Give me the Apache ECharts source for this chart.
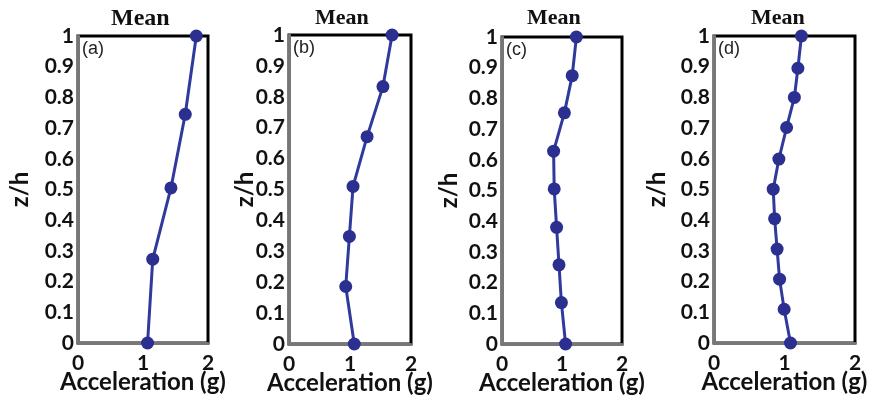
<!DOCTYPE html>
<html>
<head>
    <meta charset="utf-8">
    <title>Mean acceleration profiles</title>
    <script src="https://cdn.jsdelivr.net/npm/echarts@6/dist/echarts.min.js"></script>
</head>
<body style="margin:0;background:#fff;">
    <div id="container" style="width:875px;height:402px;"></div>
    <script type="text/javascript">
        // acceleration (g) vs z/h for each panel
        var accA = [1.07, 1.15, 1.43, 1.65, 1.82];
        var zhA  = [0, 0.273, 0.505, 0.745, 1];

        var accB = [1.07, 0.93, 0.99, 1.05, 1.28, 1.54, 1.69];
        var zhB  = [0, 0.186, 0.348, 0.51, 0.671, 0.833, 1];

        var accC = [1.06, 0.99, 0.95, 0.91, 0.87, 0.86, 1.04, 1.17, 1.24];
        var zhC  = [0, 0.135, 0.258, 0.38, 0.505, 0.628, 0.753, 0.874, 1];

        var accD = [1.085, 0.995, 0.93, 0.895, 0.86, 0.84, 0.92, 1.03, 1.14, 1.19, 1.24];
        var zhD  = [0, 0.11, 0.208, 0.306, 0.405, 0.501, 0.599, 0.702, 0.8, 0.895, 1];

        var panelLabels = ['(a)', '(b)', '(c)', '(d)'];
        var panelTitle = 'Mean';
        var xName = 'Acceleration (g)';
        var yName = 'z/h';

        // layout per panel
        var grids = [
            {left: 78,  top: 36, width: 130, height: 307},
            {left: 289, top: 35, width: 122, height: 309},
            {left: 502, top: 37, width: 120, height: 307},
            {left: 714, top: 36, width: 141, height: 307}
        ];
        var yGaps = [46, 32, 41, 45];
        var titleSizes = [24, 22, 22, 22];
        var titleX = [142, 346, 558, 782];

        var accs = [accA, accB, accC, accD];
        var zhs = [zhA, zhB, zhC, zhD];

        var myChart = echarts.init(document.getElementById('container'));

        var gridOpt = [], xAxes = [], yAxes = [], series = [], graphics = [];
        for (var i = 0; i < 4; i++) {
            gridOpt.push({
                left: grids[i].left, top: grids[i].top,
                width: grids[i].width, height: grids[i].height,
                outerBoundsMode: 'none', containLabel: false,
                show: true, borderColor: '#000', borderWidth: 3
            });
            xAxes.push({
                gridIndex: i, type: 'value', min: 0, max: 2, interval: 1,
                name: xName, nameLocation: 'middle', nameGap: 27, nameMoveOverlap: false,
                nameTextStyle: {fontFamily: 'Lato', fontWeight: 'bold', fontSize: 24, color: '#111'},
                axisLine: {show: true, lineStyle: {color: '#777', width: 3}},
                axisTick: {show: false},
                splitLine: {show: false},
                axisLabel: {fontFamily: 'Lato', fontWeight: 'bold', fontSize: 21, color: '#111', margin: 10}
            });
            yAxes.push({
                gridIndex: i, type: 'value', min: 0, max: 1, interval: 0.1,
                name: yName, nameLocation: 'middle', nameGap: yGaps[i], nameMoveOverlap: false,
                nameTextStyle: {fontFamily: 'Lato', fontWeight: 'bold', fontSize: 24, color: '#111'},
                axisLine: {show: true, lineStyle: {color: '#777', width: 3}},
                axisTick: {show: false},
                splitLine: {show: false},
                axisLabel: {
                    fontFamily: 'Lato', fontWeight: 'bold', fontSize: 21, color: '#111', margin: 4,
                    formatter: function (v) { return String(+v.toFixed(1)); }
                }
            });
            var pts = [];
            for (var k = 0; k < accs[i].length; k++) pts.push([accs[i][k], zhs[i][k]]);
            series.push({
                type: 'line', xAxisIndex: i, yAxisIndex: i, data: pts,
                symbol: 'circle', symbolSize: 13, clip: false,
                lineStyle: {color: '#2f3a9c', width: 3},
                itemStyle: {color: '#2b2f8f'},
                z: 5
            });
            graphics.push({
                type: 'text', left: titleX[i] - 31, top: 7,
                style: {text: panelTitle, font: 'bold ' + titleSizes[i] + 'px "Liberation Serif"', fill: '#111'}
            });
            graphics.push({
                type: 'text', left: grids[i].left + 4, top: grids[i].top + 4,
                style: {text: panelLabels[i], font: '18px "Liberation Sans"', fill: '#222'}
            });
        }

        myChart.setOption({
            animation: false,
            backgroundColor: '#fff',
            grid: gridOpt,
            xAxis: xAxes,
            yAxis: yAxes,
            series: series,
            graphic: graphics
        });
    </script>
</body>
</html>
